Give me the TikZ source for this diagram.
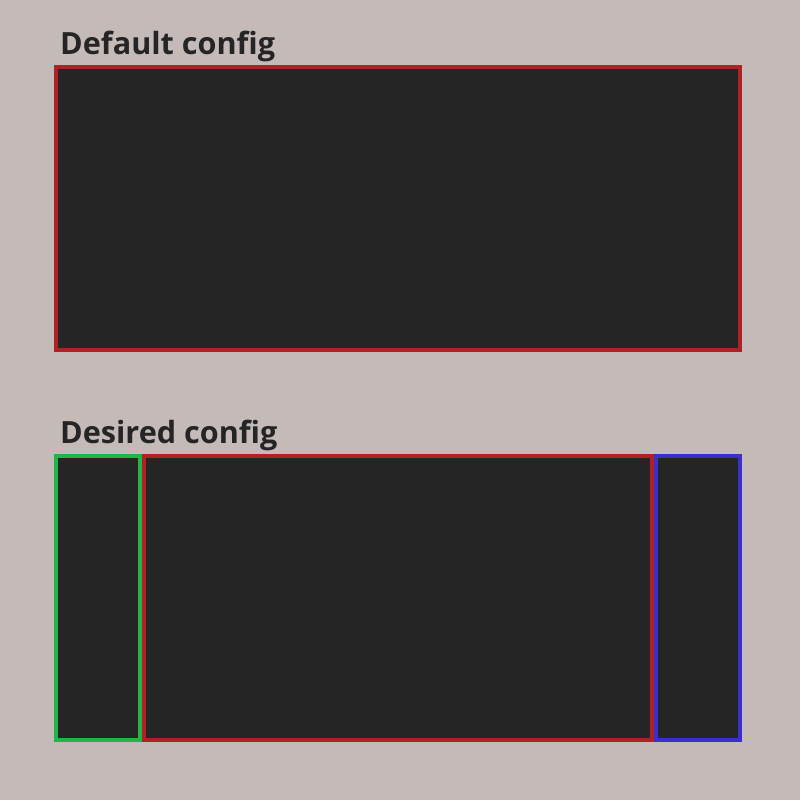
\documentclass[tikz,border=0pt]{standalone}
\usepackage{fontspec}
\setmainfont{Open Sans}
\usetikzlibrary{positioning}

\definecolor{bgcol}{HTML}{C4BBB9}
\definecolor{panelcol}{HTML}{252525}
\definecolor{redcol}{HTML}{AE2226}
\definecolor{greencol}{HTML}{22B446}
\definecolor{bluecol}{HTML}{3A2ECC}

\begin{document}
\begin{tikzpicture}[
    x=1pt, y=-1pt,
    panel/.style={rectangle, fill=panelcol, line width=4pt, inner sep=0pt,
                  outer sep=0pt, minimum height=284pt},
    mainpanel/.style={panel, draw=redcol},
    leftpanel/.style={panel, draw=greencol},
    rightpanel/.style={panel, draw=bluecol},
    title/.style={anchor=base west, inner sep=0pt, font=\bfseries\fontsize{30.6}{36}\selectfont,
                  text=panelcol}
]

%% --- fundal ---
\fill[bgcol] (0,0) rectangle (800,800);
\useasboundingbox (0,0) rectangle (800,800);

%% --- Default config ---
\node[title] (deftitle) at (60, 54.5) {Default config};
\node[mainpanel, minimum width=684pt, minimum height=283pt, anchor=north west] (defmain) at (56, 67) {};

%% --- Desired config ---
\node[title] (destitle) at (60, 443.5) {Desired config};
\node[leftpanel, minimum width=84pt, anchor=north west] (desleft) at (56, 455.5) {};
\node[mainpanel, minimum width=508pt, anchor=north west] (desmain) at (144, 455.5) {};
\node[rightpanel, minimum width=84pt, anchor=north west] (desright) at (656, 455.5) {};

\end{tikzpicture}
\end{document}
